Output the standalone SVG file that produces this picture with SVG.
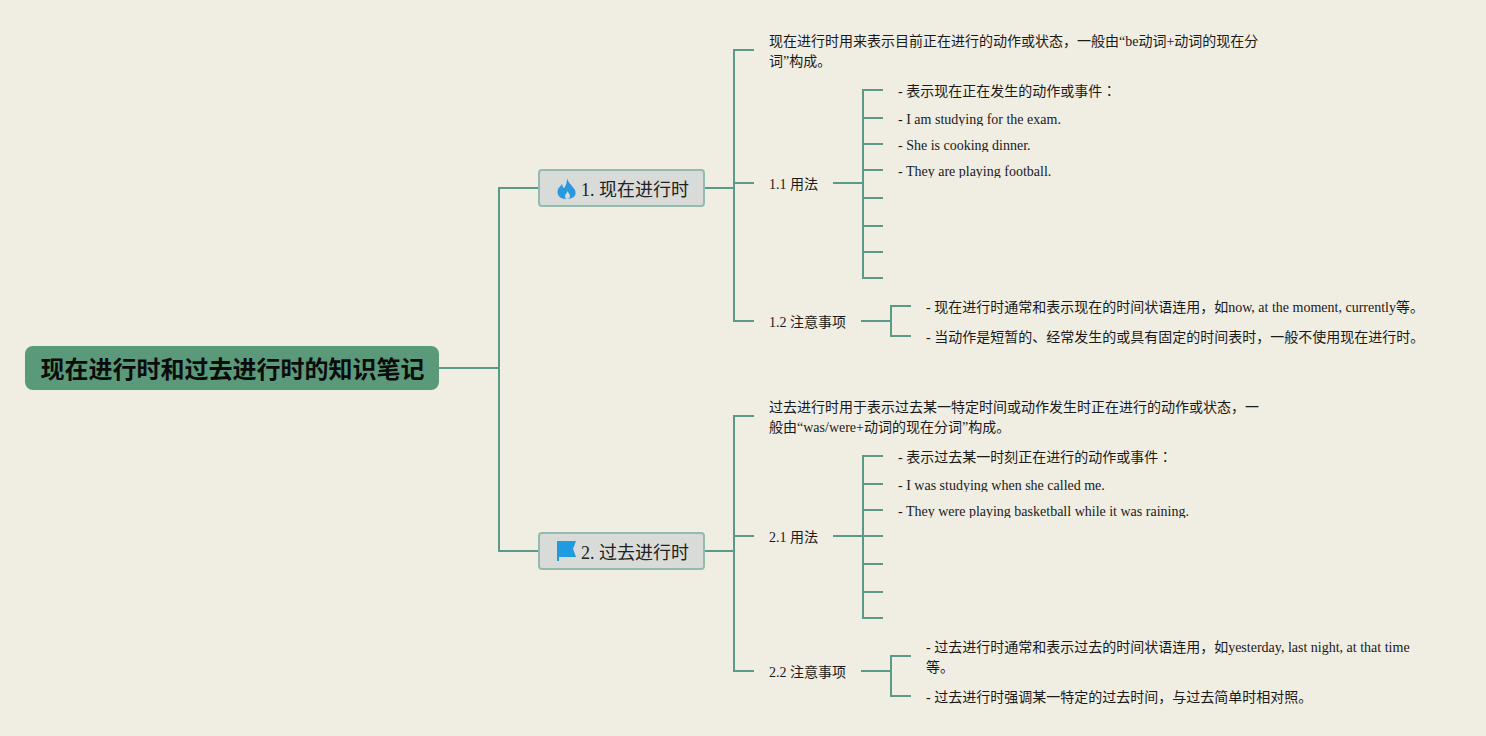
<svg xmlns="http://www.w3.org/2000/svg" width="1486" height="736" viewBox="0 0 1486 736">
<style>
text{font-family:"Liberation Serif","Noto Sans CJK JP",serif;font-size:14px;fill:#1a1a1a}
.c{fill:none;stroke:#5b9a88;stroke-width:2}
.b{fill:#d9dbd9;stroke:#94bcae;stroke-width:2}
.m{font-size:18px;fill:#222}
.r{font-size:24px;font-weight:700;fill:#0c0c0c}
.lat{clip-path:url(#clipped)}
</style>
<defs>
<clipPath id="clipped">
<rect x="890" y="108" width="320" height="18"/>
<rect x="890" y="134" width="320" height="18"/>
<rect x="890" y="160" width="320" height="18"/>
<rect x="890" y="474" width="320" height="18"/>
<rect x="890" y="500" width="320" height="18"/>
</clipPath>
</defs>
<rect width="1486" height="736" fill="#f0ede3"/>
<g id="connectors">
<path class="c" d="M439 368H499M539 188H499V551H539"/>
<path class="c" d="M705 188H734M754 50H734V321H754M734 183H754"/>
<path class="c" d="M705 551H734M754 416H734V671H754M734 536H754"/>
<path class="c" d="M833 183H863M883 90H863V278H883M863 118H883M863 144H883M863 170H883M863 198H883M863 226H883M863 252H883"/>
<path class="c" d="M861 321H891M911 306H891V336H911"/>
<path class="c" d="M833 536H883M883 456H863V618H883M863 484H883M863 510H883M863 564H883M863 592H883"/>
<path class="c" d="M861 671H891M911 656H891V696H911"/>
</g>
<g id="root"><rect x="25" y="346" width="414" height="44" rx="8" fill="#5a9a7a"/><text class="r" x="40.500" y="378">现在进行时和过去进行时的知识笔记</text></g>
<g id="t1"><rect class="b" x="539" y="170" width="165" height="36" rx="3"/>
<path d="M567 178C568 183 572 185 575 190C577 195 574 199 566 199C560 199 556 195 558 189C559 187 561 186 562 184C563 187 563 188 564 188C566 186 567 182 567 178Z" fill="#2b97dd"/>
<path d="M567.500 191C567.500 193 565 194 565 196.500C565 198 566 199 567 199C568 199 570 198 570 196C570 194 568 193 567.500 191Z" fill="#d9dbd9"/>
<text class="m" x="581" y="196">1. 现在进行时</text></g>
<g id="t2"><rect class="b" x="539" y="533" width="165" height="36" rx="3"/>
<path d="M557 541H576L573 549L576 557H559V561H557Z" fill="#1f9be0"/>
<text class="m" x="581" y="559">2. 过去进行时</text></g>
<g id="n1"><text x="769" y="46">现在进行时用来表示目前正在进行的动作或状态，一般由“be动词+动词的现在分</text><text x="769" y="66">词”构成。</text></g>
<g id="n11"><text x="769" y="189">1.1 用法</text></g>
<g id="n111"><text x="898" y="96">- 表示现在正在发生的动作或事件：</text></g>
<g id="n112"><text class="lat" x="898" y="124">- I am studying for the exam.</text></g>
<g id="n113"><text class="lat" x="898" y="150">- She is cooking dinner.</text></g>
<g id="n114"><text class="lat" x="898" y="176">- They are playing football.</text></g>
<g id="n12"><text x="769" y="327">1.2 注意事项</text></g>
<g id="n121"><text x="926" y="312">- 现在进行时通常和表示现在的时间状语连用，如now, at the moment, currently等。</text></g>
<g id="n122"><text x="926" y="342">- 当动作是短暂的、经常发生的或具有固定的时间表时，一般不使用现在进行时。</text></g>
<g id="n2"><text x="769" y="412">过去进行时用于表示过去某一特定时间或动作发生时正在进行的动作或状态，一</text><text x="769" y="432">般由“was/were+动词的现在分词”构成。</text></g>
<g id="n21"><text x="769" y="542">2.1 用法</text></g>
<g id="n211"><text x="898" y="462">- 表示过去某一时刻正在进行的动作或事件：</text></g>
<g id="n212"><text class="lat" x="898" y="490">- I was studying when she called me.</text></g>
<g id="n213"><text class="lat" x="898" y="516">- They were playing basketball while it was raining.</text></g>
<g id="n22"><text x="769" y="677">2.2 注意事项</text></g>
<g id="n221"><text x="926" y="652">- 过去进行时通常和表示过去的时间状语连用，如yesterday, last night, at that time</text><text x="926" y="672">等。</text></g>
<g id="n222"><text x="926" y="702">- 过去进行时强调某一特定的过去时间，与过去简单时相对照。</text></g>
</svg>
